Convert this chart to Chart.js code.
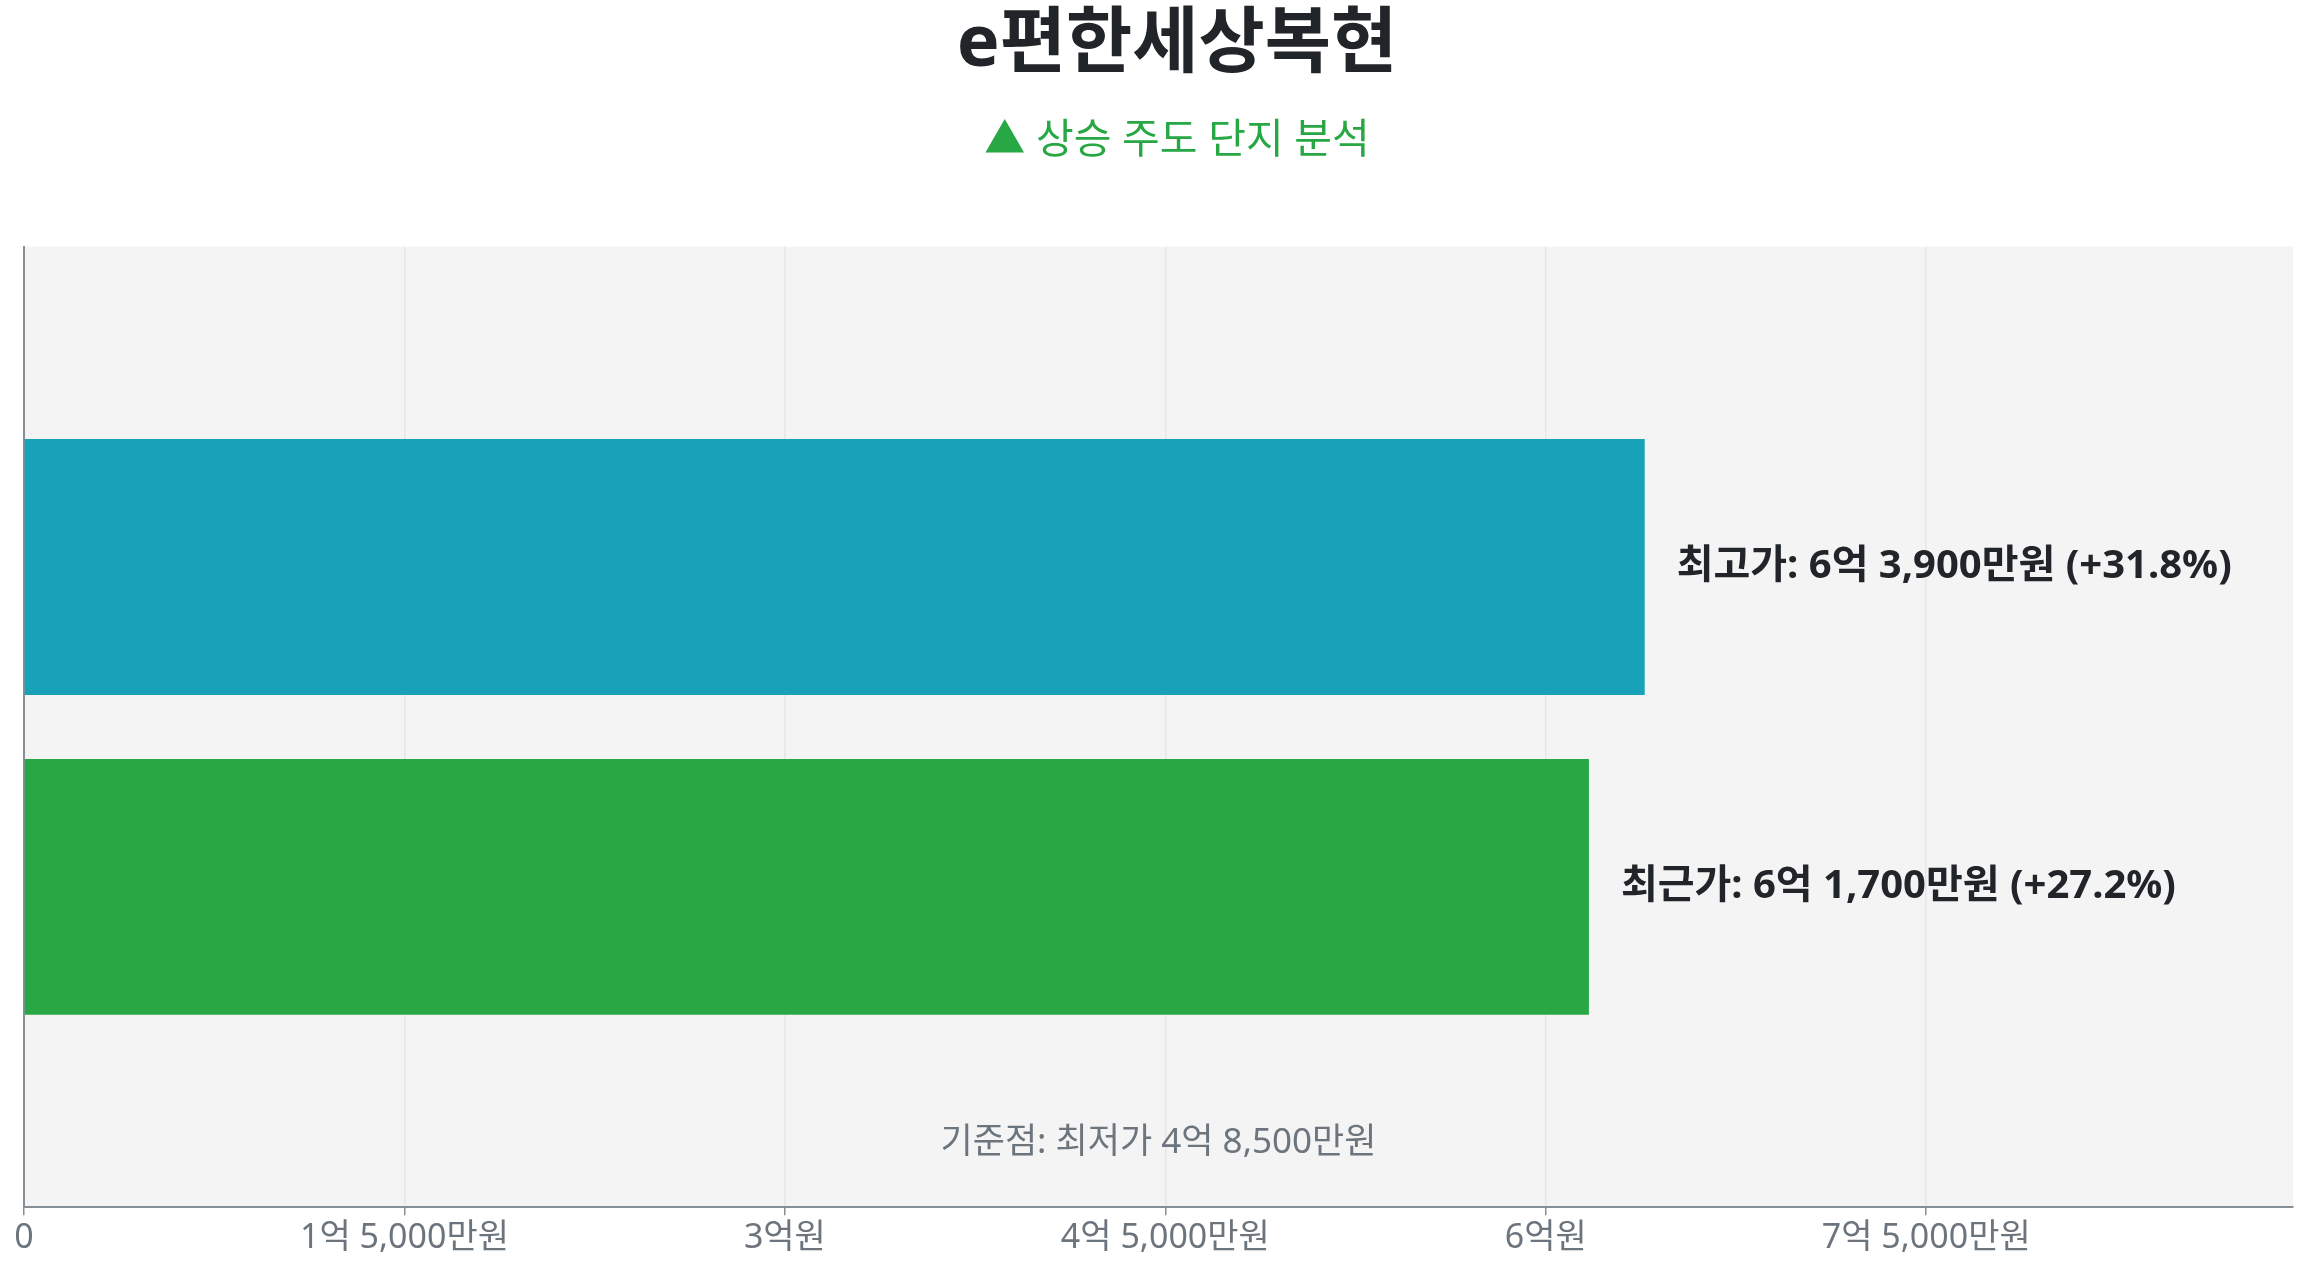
<!DOCTYPE html>
<html lang="ko">
<head>
<meta charset="utf-8">
<title>e편한세상복현</title>
<script src="https://cdn.jsdelivr.net/npm/chart.js@4.4.1/dist/chart.umd.min.js"></script>
<style>
  html, body { margin: 0; padding: 0; background: #ffffff; overflow: hidden; }
  #wrap { position: relative; width: 2354px; height: 1268px; }
</style>
</head>
<body>
<div id="wrap"><canvas id="chart"></canvas></div>
<script>
// ---- data ----
const chartTitle = 'e편한세상복현';
const chartSubtitle = '▲ 상승 주도 단지 분석';
const categories = [''];
const seriesNames = ['최고가', '최근가'];
const seriesValues = [639000000, 617000000];   // 원
const baseName = '최저가';
const baseValue = 485000000;                     // 원 (기준점)
const axisMax = 894600000;
const tickValues = [0, 150000000, 300000000, 450000000, 600000000, 750000000];

function formatKRW(v) {
  if (v === 0) return '0';
  const eok = Math.floor(v / 100000000);
  const man = Math.round((v % 100000000) / 10000);
  const parts = [];
  if (eok > 0) parts.push(eok + '억');
  if (man > 0) parts.push(man.toLocaleString('en-US') + '만원');
  else parts[parts.length - 1] += '원';
  return parts.join(' ');
}

const FONT = "'Noto Sans', 'Noto Sans CJK KR', sans-serif";
const colors = ['#17a2b8', '#28a745'];

const bgPlugin = {
  id: 'areaBg',
  beforeDraw(chart) {
    const { ctx, chartArea: a } = chart;
    ctx.save();
    ctx.fillStyle = '#f4f4f4';
    ctx.fillRect(a.left, a.top, a.right - a.left, a.bottom - a.top);
    ctx.restore();
  }
};

const labelPlugin = {
  id: 'barLabels',
  afterDatasetsDraw(chart) {
    const { ctx } = chart;
    ctx.save();
    ctx.font = 'bold 40px ' + FONT;
    ctx.fillStyle = '#212529';
    ctx.textAlign = 'left';
    ctx.textBaseline = 'middle';
    chart.data.datasets.forEach((ds, i) => {
      const meta = chart.getDatasetMeta(i);
      meta.data.forEach((bar, j) => {
        const v = ds.data[j];
        const pct = ((v - baseValue) / baseValue * 100).toFixed(1);
        const txt = seriesNames[i] + ': ' + formatKRW(v) + ' (+' + pct + '%)';
        ctx.fillText(txt, bar.x + 32, bar.y);
      });
    });
    ctx.restore();
  },
  afterDraw(chart) {
    const { ctx, chartArea: a } = chart;
    ctx.save();
    ctx.font = '35px ' + FONT;
    ctx.fillStyle = '#6c757d';
    ctx.textAlign = 'center';
    ctx.textBaseline = 'middle';
    ctx.fillText('기준점: ' + baseName + ' ' + formatKRW(baseValue), (a.left + a.right) / 2, a.bottom - 64);
    ctx.restore();
  }
};

new Chart(document.getElementById('chart'), {
  type: 'bar',
  data: {
    labels: categories,
    datasets: seriesNames.map((n, i) => ({
      label: n,
      data: [seriesValues[i]],
      backgroundColor: colors[i],
      borderWidth: 0,
      categoryPercentage: 0.666,
      barPercentage: 0.8,
      yAxisID: 'y'
    }))
  },
  options: {
    indexAxis: 'y',
    responsive: true,
    maintainAspectRatio: false,
    animation: false,
    devicePixelRatio: 1,
    layout: { padding: { left: 0, right: 0, top: 0, bottom: 6 } },
    plugins: {
      legend: { display: false },
      tooltip: { enabled: false },
      title: {
        display: true,
        text: chartTitle,
        color: '#212529',
        font: { family: FONT, size: 72, weight: 'bold' },
        padding: { top: 2, bottom: 10 }
      },
      subtitle: {
        display: true,
        text: chartSubtitle,
        color: '#28a745',
        font: { family: FONT, size: 41, weight: 'normal' },
        padding: { top: 18, bottom: 81 }
      }
    },
    scales: {
      x: {
        type: 'linear',
        min: 0,
        max: axisMax,
        afterBuildTicks: (scale) => { scale.ticks = tickValues.map(v => ({ value: v })); },
        border: { display: true, color: '#868e96', width: 2 },
        grid: { color: '#e6e6e6', lineWidth: 1.5, drawTicks: true, tickLength: 8, tickColor: '#868e96', tickWidth: 1.5 },
        ticks: {
          color: '#6c757d',
          font: { family: FONT, size: 34 },
          padding: 3,
          maxRotation: 0,
          autoSkip: false,
          callback: (v) => formatKRW(v)
        }
      },
      y: {
        position: 'left',
        border: { display: true, color: '#868e96', width: 2 },
        grid: { display: false, drawTicks: false },
        ticks: { display: false },
        afterFit: (scale) => { scale.width = 24; }
      },
      yRight: {
        type: 'category',
        position: 'right',
        border: { display: false },
        grid: { display: false, drawTicks: false },
        ticks: { display: false },
        afterFit: (scale) => { scale.width = 61; }
      }
    }
  },
  plugins: [bgPlugin, labelPlugin]
});
</script>
</body>
</html>
